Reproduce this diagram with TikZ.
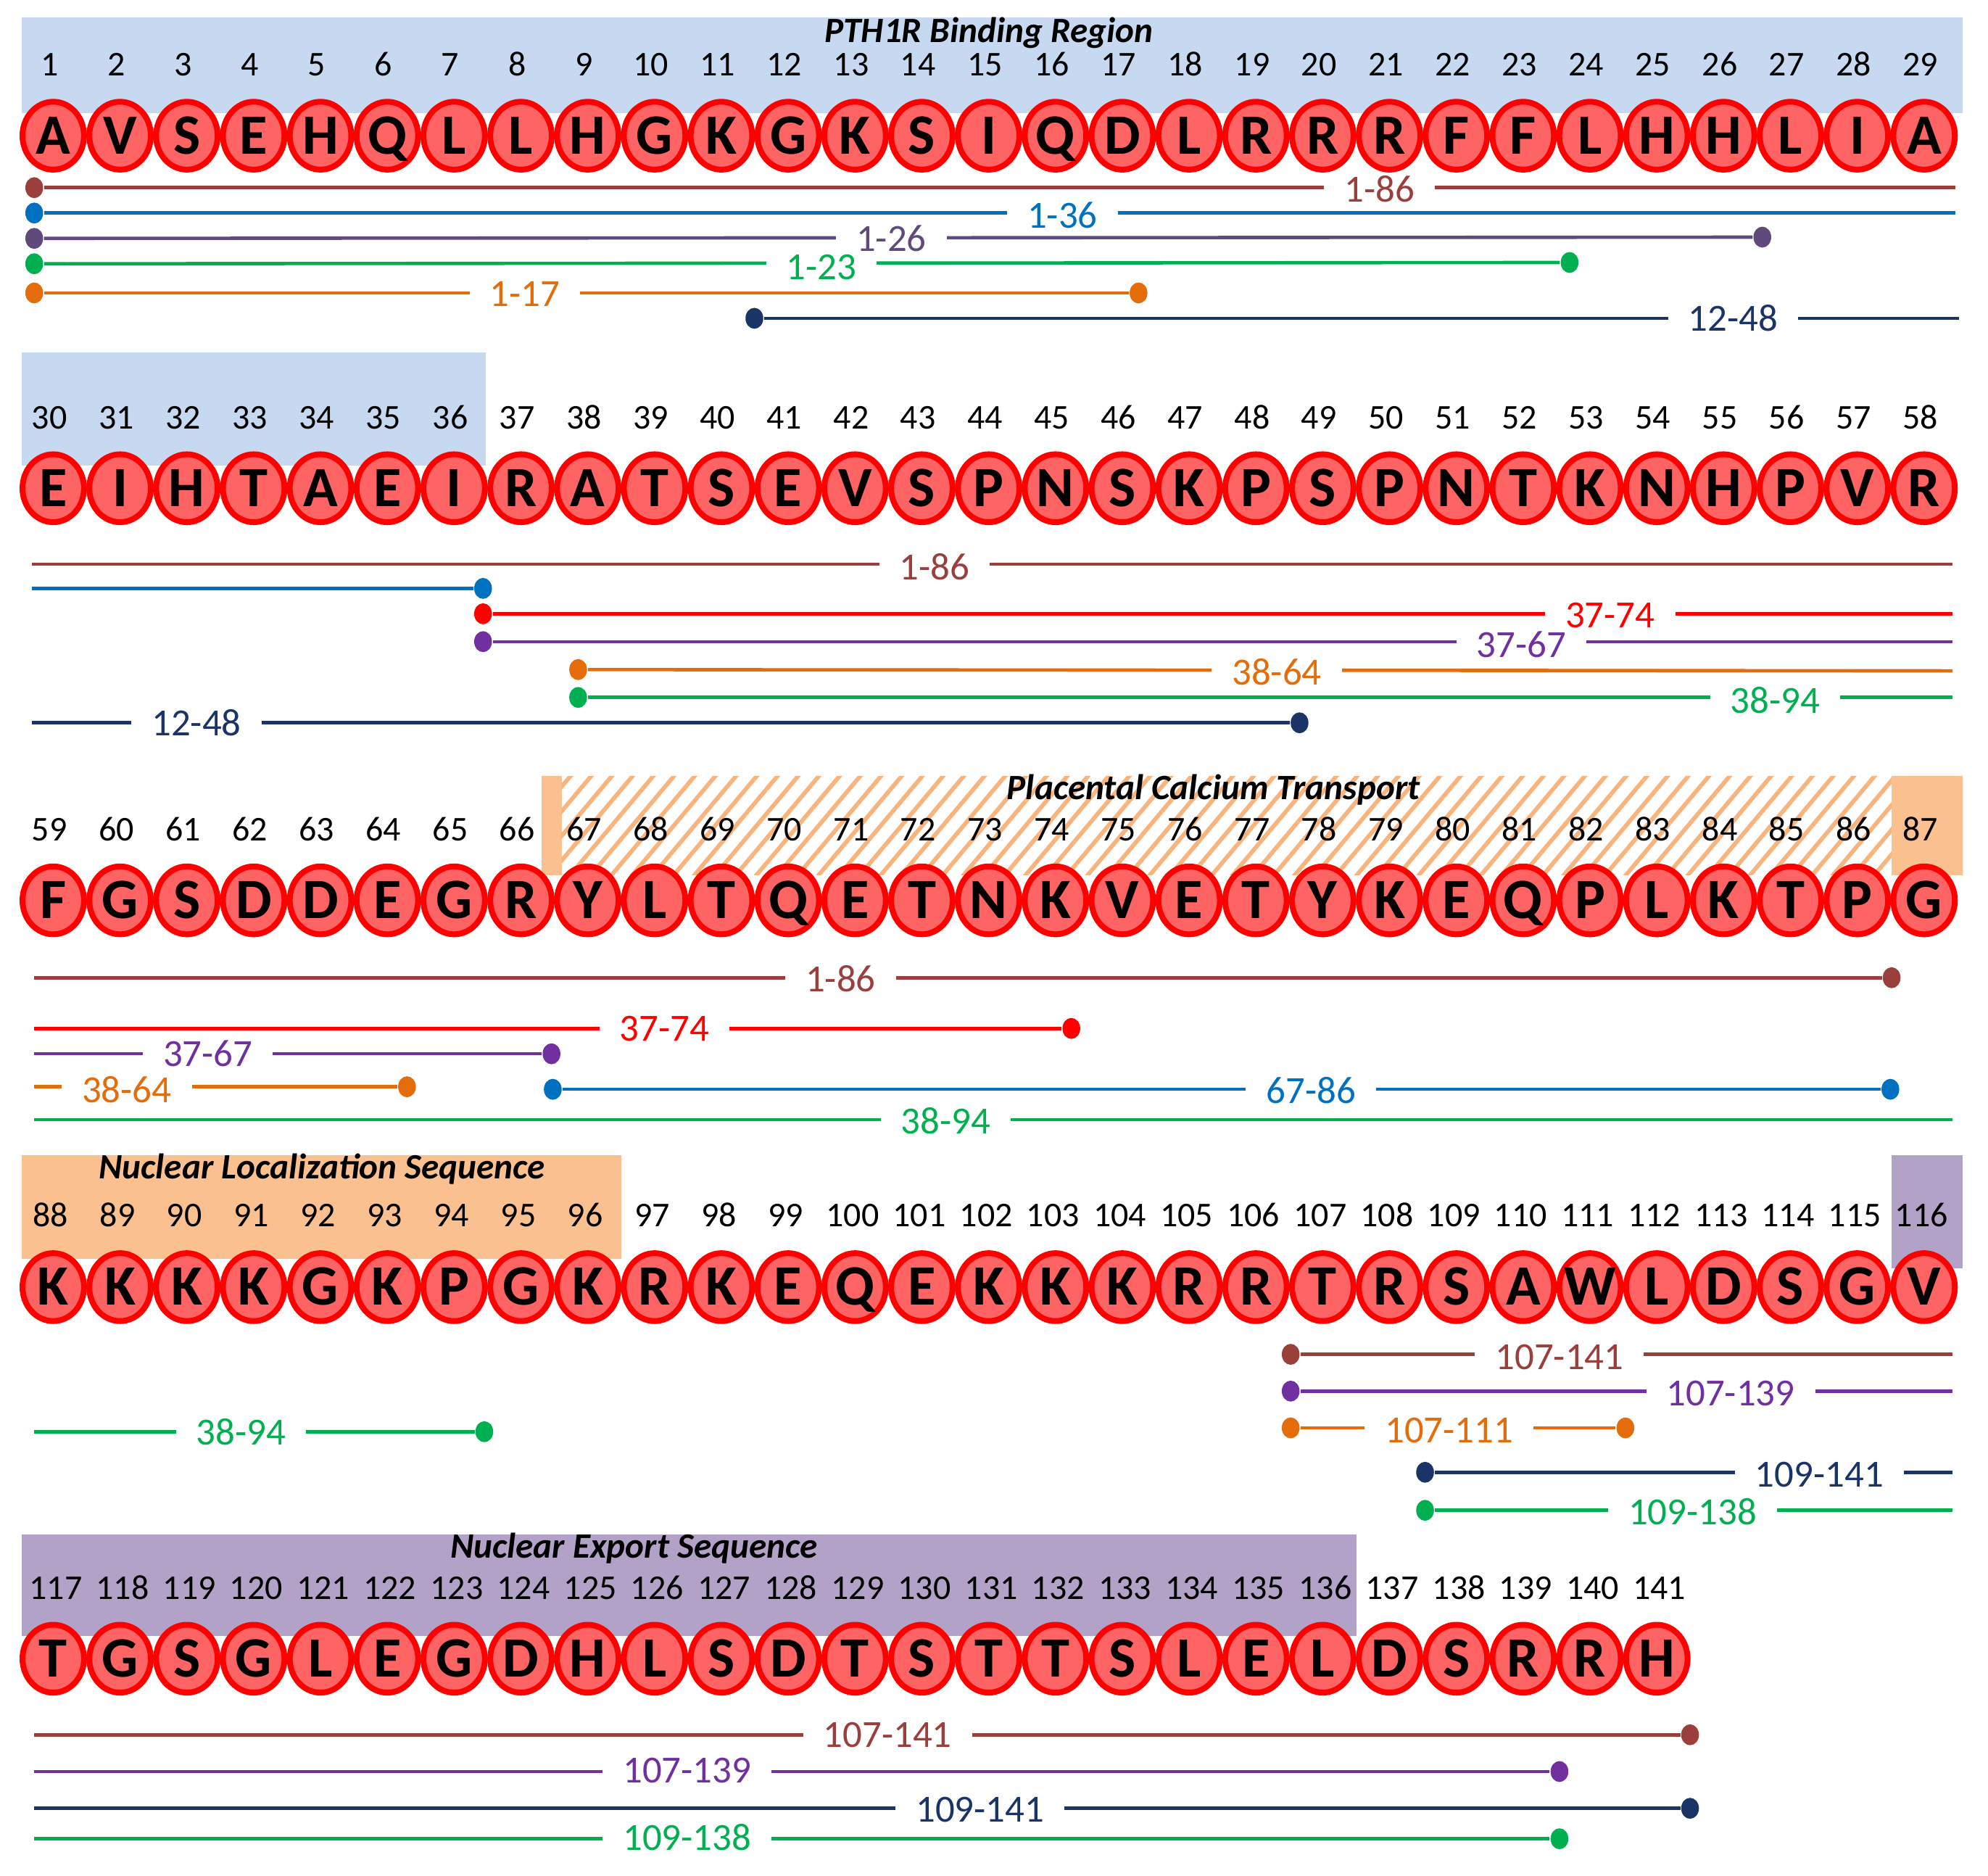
\documentclass[tikz,border=0pt]{standalone}
\usepackage{fontspec}
\setmainfont{Carlito}
\usetikzlibrary{shapes.geometric,patterns.meta}

\definecolor{resred}{HTML}{FF0000}
\definecolor{resfill}{HTML}{FF6464}
\definecolor{bandblue}{HTML}{C6D9F1}
\definecolor{bandorange}{HTML}{FAC090}
\definecolor{bandhatch}{HTML}{F8B47C}
\definecolor{bandpurple}{HTML}{B3A2C7}
\definecolor{cbrown}{HTML}{9B3F3D}
\definecolor{cblue}{HTML}{0070C0}
\definecolor{cgrey}{HTML}{604A7B}
\definecolor{cgreen}{HTML}{00B050}
\definecolor{corange}{HTML}{E46C0A}
\definecolor{cnavy}{HTML}{1B3468}
\definecolor{cred}{HTML}{FF0000}
\definecolor{cpurple}{HTML}{7030A0}

\tikzset{
  res/.style={ellipse,draw=resred,fill=resfill,line width=1.3pt,
    minimum width=4.85mm,minimum height=5.35mm,inner sep=0pt,
    text height=2.85mm,text depth=0pt,font=\fontsize{12.8}{13}\selectfont\bfseries},
  num/.style={inner sep=0pt,text height=1.8mm,text depth=0pt,font=\fontsize{7.8}{8}\selectfont},
  ttl/.style={inner sep=0pt,font=\fontsize{8}{9}\selectfont\bfseries\itshape},
  dot/.style={ellipse,fill,inner sep=0pt,minimum width=1.4mm,minimum height=1.65mm},
  rng/.style={line width=0.75pt},
  lab/.style={fill=white,inner xsep=1.6mm,inner ysep=0.2mm,font=\fontsize{8.6}{9}\selectfont}
}

\begin{document}
\begin{tikzpicture}[x=0.01cm,y=-0.01cm] % PTHrP 1-141 with fragments
\useasboundingbox (0,0) rectangle (1568,1479);

% region bands
\fill[bandblue] (17,14) rectangle (1548,89);
\fill[bandblue] (17,278) rectangle (383,367);
\fill[bandorange] (427,612) rectangle (443,690);
\fill[pattern={Lines[angle=50,distance=1.25mm,line width=0.33mm]},pattern color=bandhatch] (443,612) rectangle (1492,690);
\fill[bandorange] (1492,612) rectangle (1548,690);
\fill[bandorange] (17,911) rectangle (490,993);
\fill[bandpurple] (1492,911) rectangle (1548,1000);
\fill[bandpurple] (17,1210) rectangle (1070,1290);

\node[ttl] (t1) at (780,26) {PTH1R Binding Region};
\node[ttl] (t2) at (957,623) {Placental Calcium Transport};
\node[ttl] (t3) at (254,922) {Nuclear Localization Sequence};
\node[ttl] (t4) at (500,1221) {Nuclear Export Sequence};

% residues
\foreach \aa [count=\i] in {A,V,S,E,H,Q,L,L,H,G,K,G,K,S,I,Q,D,L,R,R,R,F,F,L,H,H,L,I,A}{
  \node[num] (n\i) at ({39+(\i-1)*52.7},51) {\i};
  \node[res] (r\i) at ({42+(\i-1)*52.7},107) {\makebox[0pt]{\aa}};}
\foreach \aa [count=\i from 30] in {E,I,H,T,A,E,I,R,A,T,S,E,V,S,P,N,S,K,P,S,P,N,T,K,N,H,P,V,R}{
  \node[num] (n\i) at ({39+(\i-30)*52.7},329) {\i};
  \node[res] (r\i) at ({42+(\i-30)*52.7},385) {\makebox[0pt]{\aa}};}
\foreach \aa [count=\i from 59] in {F,G,S,D,D,E,G,R,Y,L,T,Q,E,T,N,K,V,E,T,Y,K,E,Q,P,L,K,T,P,G}{
  \node[num] (n\i) at ({39+(\i-59)*52.7},654) {\i};
  \node[res] (r\i) at ({42+(\i-59)*52.7},710) {\makebox[0pt]{\aa}};}
\foreach \aa [count=\i from 88] in {K,K,K,K,G,K,P,G,K,R,K,E,Q,E,K,K,K,R,R,T,R,S,A,W,L,D,S,G,V}{
  \node[num] (n\i) at ({40+(\i-88)*52.7},958) {\i};
  \node[res] (r\i) at ({42+(\i-88)*52.7},1015) {\makebox[0pt]{\aa}};}
\foreach \aa [count=\i from 117] in {T,G,S,G,L,E,G,D,H,L,S,D,T,S,T,T,S,L,E,L,D,S,R,R,H}{
  \node[num] (n\i) at ({44+(\i-117)*52.7},1252) {\i};
  \node[res] (r\i) at ({42+(\i-117)*52.7},1308) {\makebox[0pt]{\aa}};}

% fragments, row 1
\node[dot,cbrown] (a1) at (27,148) {}; \coordinate (a1e) at (1542,148);
\draw[rng,cbrown] (a1) -- (a1e);
\node[lab,text=cbrown] (a1t) at (1088,149) {1-86};
\node[dot,cblue] (a2) at (27,168) {}; \coordinate (a2e) at (1542,168);
\draw[rng,cblue] (a2) -- (a2e);
\node[lab,text=cblue] (a2t) at (838,170) {1-36};
\node[dot,cgrey] (a3) at (27,188) {}; \node[dot,cgrey] (a3e) at (1390,187) {};
\draw[rng,cgrey] (a3) -- (a3e);
\node[lab,text=cgrey] (a3t) at (703,188) {1-26};
\node[dot,cgreen] (a4) at (27,208) {}; \node[dot,cgreen] (a4e) at (1238,207) {};
\draw[rng,cgreen] (a4) -- (a4e);
\node[lab,text=cgreen] (a4t) at (648,211) {1-23};
\node[dot,corange] (a5) at (27,231) {}; \node[dot,corange] (a5e) at (898,231) {};
\draw[rng,corange] (a5) -- (a5e);
\node[lab,text=corange] (a5t) at (414,232) {1-17};
\node[dot,cnavy] (a6) at (595,251) {}; \coordinate (a6e) at (1545,251);
\draw[rng,cnavy] (a6) -- (a6e);
\node[lab,text=cnavy] (a6t) at (1367,251) {12-48};

% fragments, row 2
\coordinate (b1) at (25,445); \coordinate (b1e) at (1540,445);
\draw[rng,cbrown] (b1) -- (b1e);
\node[lab,text=cbrown] (b1t) at (737,447) {1-86};
\coordinate (b2) at (25,464); \node[dot,cblue] (b2e) at (381,464) {};
\draw[rng,cblue] (b2) -- (b2e);
\node[dot,cred] (b3) at (381,484) {}; \coordinate (b3e) at (1540,484);
\draw[rng,cred] (b3) -- (b3e);
\node[lab,text=cred] (b3t) at (1270,485) {37-74};
\node[dot,cpurple] (b4) at (381,506) {}; \coordinate (b4e) at (1540,506);
\draw[rng,cpurple] (b4) -- (b4e);
\node[lab,text=cpurple] (b4t) at (1200,508) {37-67};
\node[dot,corange] (b5) at (456,528) {}; \coordinate (b5e) at (1540,529);
\draw[rng,corange] (b5) -- (b5e);
\node[lab,text=corange] (b5t) at (1007,530) {38-64};
\node[dot,cgreen] (b6) at (456,550) {}; \coordinate (b6e) at (1540,550);
\draw[rng,cgreen] (b6) -- (b6e);
\node[lab,text=cgreen] (b6t) at (1400,552) {38-94};
\coordinate (b7) at (25,570); \node[dot,cnavy] (b7e) at (1025,570) {};
\draw[rng,cnavy] (b7) -- (b7e);
\node[lab,text=cnavy] (b7t) at (155,570) {12-48};

% fragments, row 3
\coordinate (c1) at (27,771); \node[dot,cbrown] (c1e) at (1492,771) {};
\draw[rng,cbrown] (c1) -- (c1e);
\node[lab,text=cbrown] (c1t) at (663,772) {1-86};
\coordinate (c2) at (27,811); \node[dot,cred] (c2e) at (845,811) {};
\draw[rng,cred] (c2) -- (c2e);
\node[lab,text=cred] (c2t) at (524,811) {37-74};
\coordinate (c3) at (27,831); \node[dot,cpurple] (c3e) at (435,831) {};
\draw[rng,cpurple] (c3) -- (c3e);
\node[lab,text=cpurple] (c3t) at (164,831) {37-67};
\coordinate (c4) at (27,857); \node[dot,corange] (c4e) at (321,857) {};
\draw[rng,corange] (c4) -- (c4e);
\node[lab,text=corange] (c4t) at (100,859) {38-64};
\node[dot,cblue] (c5) at (436,859) {}; \node[dot,cblue] (c5e) at (1491,859) {};
\draw[rng,cblue] (c5) -- (c5e);
\node[lab,text=cblue] (c5t) at (1034,860) {67-86};
\coordinate (c6) at (27,883); \coordinate (c6e) at (1540,883);
\draw[rng,cgreen] (c6) -- (c6e);
\node[lab,text=cgreen] (c6t) at (746,884) {38-94};

% fragments, row 4
\coordinate (d1) at (27,1129); \node[dot,cgreen] (d1e) at (382,1129) {};
\draw[rng,cgreen] (d1) -- (d1e);
\node[lab,text=cgreen] (d1t) at (190,1129) {38-94};
\node[dot,cbrown] (d2) at (1018,1068) {}; \coordinate (d2e) at (1540,1068);
\draw[rng,cbrown] (d2) -- (d2e);
\node[lab,text=cbrown] (d2t) at (1230,1070) {107-141};
\node[dot,cpurple] (d3) at (1018,1097) {}; \coordinate (d3e) at (1540,1097);
\draw[rng,cpurple] (d3) -- (d3e);
\node[lab,text=cpurple] (d3t) at (1365,1099) {107-139};
\node[dot,corange] (d4) at (1018,1126) {}; \node[dot,corange] (d4e) at (1282,1126) {};
\draw[rng,corange] (d4) -- (d4e);
\node[lab,text=corange] (d4t) at (1143,1128) {107-111};
\node[dot,cnavy] (d5) at (1124,1161) {}; \coordinate (d5e) at (1540,1161);
\draw[rng,cnavy] (d5) -- (d5e);
\node[lab,text=cnavy] (d5t) at (1435,1163) {109-141};
\node[dot,cgreen] (d6) at (1124,1191) {}; \coordinate (d6e) at (1540,1191);
\draw[rng,cgreen] (d6) -- (d6e);
\node[lab,text=cgreen] (d6t) at (1335,1192) {109-138};

% fragments, row 5
\coordinate (e1) at (27,1368); \node[dot,cbrown] (e1e) at (1333,1368) {};
\draw[rng,cbrown] (e1) -- (e1e);
\node[lab,text=cbrown] (e1t) at (700,1368) {107-141};
\coordinate (e2) at (27,1397); \node[dot,cpurple] (e2e) at (1230,1397) {};
\draw[rng,cpurple] (e2) -- (e2e);
\node[lab,text=cpurple] (e2t) at (542,1396) {107-139};
\coordinate (e3) at (27,1426); \node[dot,cnavy] (e3e) at (1333,1426) {};
\draw[rng,cnavy] (e3) -- (e3e);
\node[lab,text=cnavy] (e3t) at (773,1427) {109-141};
\coordinate (e4) at (27,1450); \node[dot,cgreen] (e4e) at (1230,1450) {};
\draw[rng,cgreen] (e4) -- (e4e);
\node[lab,text=cgreen] (e4t) at (542,1449) {109-138};
\end{tikzpicture}
\end{document}
